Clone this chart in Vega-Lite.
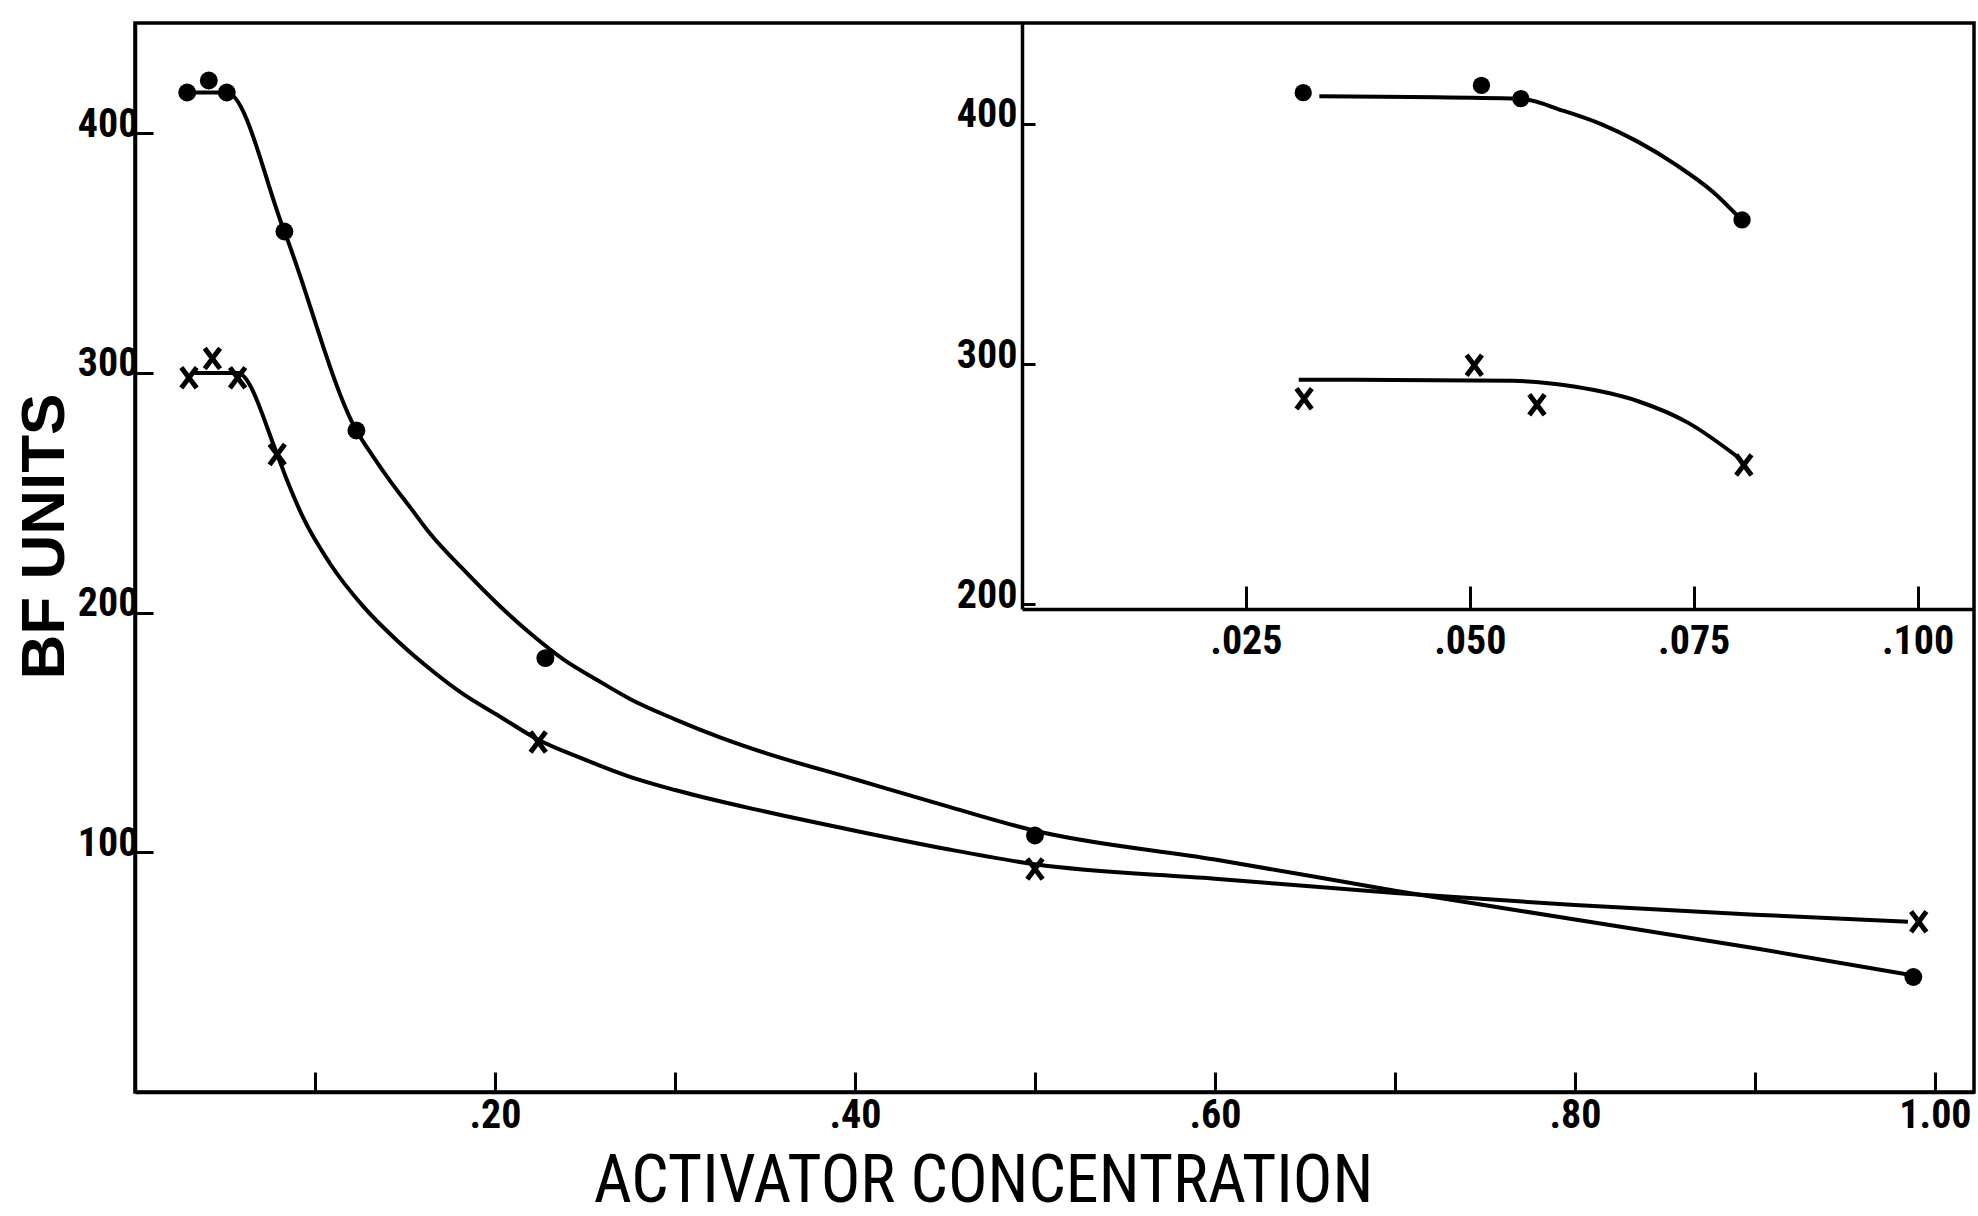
{
  "$schema": "https://vega.github.io/schema/vega-lite/v6.json",
  "width": 1839,
  "height": 1069,
  "autosize": {"type": "none"},
  "padding": {"left": 135, "top": 23, "right": 4, "bottom": 124},
  "background": "white",
  "config": {
    "view": {"stroke": "black", "strokeWidth": 3.5},
    "axis": {
      "grid": false,
      "domainColor": "black",
      "domainWidth": 3.5,
      "tickColor": "black",
      "tickWidth": 3,
      "labelColor": "black",
      "titleColor": "black",
      "labelFont": "Liberation Sans Narrow, Roboto Condensed, DejaVu Sans Condensed, Liberation Sans, sans-serif",
      "labelFontWeight": "bold",
      "labelFontSize": 40,
      "titleFont": "Liberation Sans Narrow, Roboto Condensed, DejaVu Sans Condensed, Liberation Sans, sans-serif"
    }
  },
  "data": {
    "values": [
      {"panel": "main", "series": "dot", "kind": "obs", "conc": 0.029, "bf": 417},
      {"panel": "main", "series": "dot", "kind": "obs", "conc": 0.041, "bf": 422},
      {"panel": "main", "series": "dot", "kind": "obs", "conc": 0.051, "bf": 417},
      {"panel": "main", "series": "dot", "kind": "obs", "conc": 0.083, "bf": 359},
      {"panel": "main", "series": "dot", "kind": "obs", "conc": 0.123, "bf": 276},
      {"panel": "main", "series": "dot", "kind": "obs", "conc": 0.228, "bf": 181},
      {"panel": "main", "series": "dot", "kind": "obs", "conc": 0.5, "bf": 107},
      {"panel": "main", "series": "dot", "kind": "obs", "conc": 0.988, "bf": 48},
      {"panel": "main", "series": "x", "kind": "obs", "conc": 0.03, "bf": 298},
      {"panel": "main", "series": "x", "kind": "obs", "conc": 0.043, "bf": 306},
      {"panel": "main", "series": "x", "kind": "obs", "conc": 0.057, "bf": 298},
      {"panel": "main", "series": "x", "kind": "obs", "conc": 0.079, "bf": 266},
      {"panel": "main", "series": "x", "kind": "obs", "conc": 0.224, "bf": 146},
      {"panel": "main", "series": "x", "kind": "obs", "conc": 0.5, "bf": 93},
      {"panel": "main", "series": "x", "kind": "obs", "conc": 0.991, "bf": 71},

      {"panel": "main", "series": "dot", "kind": "fit", "conc": 0.029, "bf": 417},
      {"panel": "main", "series": "dot", "kind": "fit", "conc": 0.051, "bf": 417},
      {"panel": "main", "series": "dot", "kind": "fit", "conc": 0.083, "bf": 359},
      {"panel": "main", "series": "dot", "kind": "fit", "conc": 0.123, "bf": 276},
      {"panel": "main", "series": "dot", "kind": "fit", "conc": 0.1324, "bf": 265},
      {"panel": "main", "series": "dot", "kind": "fit", "conc": 0.1417, "bf": 255},
      {"panel": "main", "series": "dot", "kind": "fit", "conc": 0.1528, "bf": 244},
      {"panel": "main", "series": "dot", "kind": "fit", "conc": 0.1639, "bf": 233},
      {"panel": "main", "series": "dot", "kind": "fit", "conc": 0.1824, "bf": 218},
      {"panel": "main", "series": "dot", "kind": "fit", "conc": 0.2009, "bf": 204},
      {"panel": "main", "series": "dot", "kind": "fit", "conc": 0.2194, "bf": 191.5},
      {"panel": "main", "series": "dot", "kind": "fit", "conc": 0.238, "bf": 180.5},
      {"panel": "main", "series": "dot", "kind": "fit", "conc": 0.2565, "bf": 172},
      {"panel": "main", "series": "dot", "kind": "fit", "conc": 0.275, "bf": 164},
      {"panel": "main", "series": "dot", "kind": "fit", "conc": 0.3, "bf": 155.5},
      {"panel": "main", "series": "dot", "kind": "fit", "conc": 0.325, "bf": 148},
      {"panel": "main", "series": "dot", "kind": "fit", "conc": 0.35, "bf": 141.5},
      {"panel": "main", "series": "dot", "kind": "fit", "conc": 0.4, "bf": 130.5},
      {"panel": "main", "series": "dot", "kind": "fit", "conc": 0.45, "bf": 119.5},
      {"panel": "main", "series": "dot", "kind": "fit", "conc": 0.5, "bf": 109},
      {"panel": "main", "series": "dot", "kind": "fit", "conc": 0.6, "bf": 97},
      {"panel": "main", "series": "dot", "kind": "fit", "conc": 0.7, "bf": 84},
      {"panel": "main", "series": "dot", "kind": "fit", "conc": 0.8, "bf": 72},
      {"panel": "main", "series": "dot", "kind": "fit", "conc": 0.9, "bf": 60},
      {"panel": "main", "series": "dot", "kind": "fit", "conc": 0.985, "bf": 49},

      {"panel": "main", "series": "x", "kind": "fit", "conc": 0.033, "bf": 300},
      {"panel": "main", "series": "x", "kind": "fit", "conc": 0.057, "bf": 300},
      {"panel": "main", "series": "x", "kind": "fit", "conc": 0.079, "bf": 266},
      {"panel": "main", "series": "x", "kind": "fit", "conc": 0.0843, "bf": 255.5},
      {"panel": "main", "series": "x", "kind": "fit", "conc": 0.0935, "bf": 239.5},
      {"panel": "main", "series": "x", "kind": "fit", "conc": 0.1083, "bf": 220.5},
      {"panel": "main", "series": "x", "kind": "fit", "conc": 0.1269, "bf": 202.5},
      {"panel": "main", "series": "x", "kind": "fit", "conc": 0.1454, "bf": 188.5},
      {"panel": "main", "series": "x", "kind": "fit", "conc": 0.1639, "bf": 176.5},
      {"panel": "main", "series": "x", "kind": "fit", "conc": 0.1824, "bf": 166},
      {"panel": "main", "series": "x", "kind": "fit", "conc": 0.2009, "bf": 157.5},
      {"panel": "main", "series": "x", "kind": "fit", "conc": 0.224, "bf": 147},
      {"panel": "main", "series": "x", "kind": "fit", "conc": 0.2472, "bf": 139.5},
      {"panel": "main", "series": "x", "kind": "fit", "conc": 0.275, "bf": 131.5},
      {"panel": "main", "series": "x", "kind": "fit", "conc": 0.3, "bf": 126},
      {"panel": "main", "series": "x", "kind": "fit", "conc": 0.35, "bf": 117},
      {"panel": "main", "series": "x", "kind": "fit", "conc": 0.4, "bf": 109},
      {"panel": "main", "series": "x", "kind": "fit", "conc": 0.45, "bf": 101.5},
      {"panel": "main", "series": "x", "kind": "fit", "conc": 0.5, "bf": 95},
      {"panel": "main", "series": "x", "kind": "fit", "conc": 0.6, "bf": 89},
      {"panel": "main", "series": "x", "kind": "fit", "conc": 0.7, "bf": 83},
      {"panel": "main", "series": "x", "kind": "fit", "conc": 0.8, "bf": 78},
      {"panel": "main", "series": "x", "kind": "fit", "conc": 0.9, "bf": 74},
      {"panel": "main", "series": "x", "kind": "fit", "conc": 0.985, "bf": 71},

      {"panel": "inset", "series": "dot", "kind": "obs", "conc": 0.0314, "bf": 413},
      {"panel": "inset", "series": "dot", "kind": "obs", "conc": 0.0513, "bf": 416},
      {"panel": "inset", "series": "dot", "kind": "obs", "conc": 0.0557, "bf": 410.5},
      {"panel": "inset", "series": "dot", "kind": "obs", "conc": 0.0804, "bf": 360},
      {"panel": "inset", "series": "x", "kind": "obs", "conc": 0.0315, "bf": 285.5},
      {"panel": "inset", "series": "x", "kind": "obs", "conc": 0.0505, "bf": 299.5},
      {"panel": "inset", "series": "x", "kind": "obs", "conc": 0.0575, "bf": 283},
      {"panel": "inset", "series": "x", "kind": "obs", "conc": 0.0806, "bf": 258},

      {"panel": "inset", "series": "dot", "kind": "fit", "conc": 0.0332, "bf": 411.5},
      {"panel": "inset", "series": "dot", "kind": "fit", "conc": 0.0556, "bf": 410.5},
      {"panel": "inset", "series": "dot", "kind": "fit", "conc": 0.0604, "bf": 405.5},
      {"panel": "inset", "series": "dot", "kind": "fit", "conc": 0.0646, "bf": 400},
      {"panel": "inset", "series": "dot", "kind": "fit", "conc": 0.0688, "bf": 392.5},
      {"panel": "inset", "series": "dot", "kind": "fit", "conc": 0.073, "bf": 383},
      {"panel": "inset", "series": "dot", "kind": "fit", "conc": 0.0772, "bf": 371.5},
      {"panel": "inset", "series": "dot", "kind": "fit", "conc": 0.0802, "bf": 360.5},
      {"panel": "inset", "series": "x", "kind": "fit", "conc": 0.0309, "bf": 293.5},
      {"panel": "inset", "series": "x", "kind": "fit", "conc": 0.0548, "bf": 293},
      {"panel": "inset", "series": "x", "kind": "fit", "conc": 0.0618, "bf": 290.5},
      {"panel": "inset", "series": "x", "kind": "fit", "conc": 0.0688, "bf": 284.5},
      {"panel": "inset", "series": "x", "kind": "fit", "conc": 0.0744, "bf": 275.5},
      {"panel": "inset", "series": "x", "kind": "fit", "conc": 0.0802, "bf": 260.5}
    ]
  },
  "layer": [
    {
      "encoding": {
        "x": {
          "field": "conc",
          "type": "quantitative",
          "scale": {"domain": [0, 1.0217], "nice": false, "zero": false},
          "axis": {
            "values": [0.1, 0.2, 0.3, 0.4, 0.5, 0.6, 0.7, 0.8, 0.9, 1.0],
            "labelExpr": "(round(datum.value*10)%2==0)?replace(format(datum.value,'.2f'),'0.','.'):''",
            "tickSize": -20,
            "labelPadding": 23,
            "labelOverlap": false,
            "labelFlush": false,
            "labelBaseline": "top",
            "title": "ACTIVATOR CONCENTRATION",
            "titleFontSize": 66,
            "titleFontWeight": "normal",
            "titleX": 848,
            "titleY": 89,
            "titleAlign": "center",
            "titleBaseline": "middle",
            "titleAnchor": null
          }
        },
        "y": {
          "field": "bf",
          "type": "quantitative",
          "scale": {"domain": [0, 446], "nice": false, "zero": false},
          "axis": {
            "values": [100, 200, 300, 400],
            "tickSize": -18,
            "labelPadding": 15,
            "labelBaseline": "middle",
            "labelOffset": -9,
            "labelFlush": false,
            "labelOverlap": false,
            "title": "BF UNITS",
            "titleFont": "Liberation Sans, DejaVu Sans, sans-serif",
            "titleFontSize": 62,
            "titleFontWeight": "bold",
            "titleAngle": -90,
            "titleX": -91,
            "titleY": 513,
            "titleAlign": "center",
            "titleBaseline": "middle",
            "titleAnchor": null
          }
        }
      },
      "layer": [
        {
          "transform": [{"filter": "datum.panel == 'main' && datum.kind == 'fit'"}],
          "mark": {"type": "line", "interpolate": "monotone", "color": "black", "strokeWidth": 4},
          "encoding": {"detail": {"field": "series"}}
        },
        {
          "transform": [{"filter": "datum.panel == 'main' && datum.kind == 'obs' && datum.series == 'dot'"}],
          "mark": {"type": "point", "shape": "circle", "filled": true, "color": "black", "opacity": 1, "size": 320}
        },
        {
          "transform": [{"filter": "datum.panel == 'main' && datum.kind == 'obs' && datum.series == 'x'"}],
          "mark": {"type": "point", "shape": "M-0.75,-1L0.75,1M0.75,-1L-0.75,1", "filled": false, "color": "black", "opacity": 1, "strokeWidth": 5, "size": 420}
        }
      ]
    },
    {
      "encoding": {
        "x": {
          "field": "conc",
          "type": "quantitative",
          "scale": {"domain": [0, 0.1063], "range": [887, 1839], "nice": false, "zero": false},
          "axis": {
            "orient": "bottom",
            "offset": -483,
            "values": [0.025, 0.05, 0.075, 0.1],
            "labelExpr": "replace(format(datum.value,'.3f'),'0.','.')",
            "tickSize": -23,
            "labelPadding": 35,
            "labelBaseline": "top",
            "labelFlush": false,
            "labelOverlap": false,
            "title": null
          }
        },
        "y": {
          "field": "bf",
          "type": "quantitative",
          "scale": {"domain": [198, 442], "range": [586, 0], "nice": false, "zero": false},
          "axis": {
            "orient": "left",
            "offset": -887,
            "values": [200, 300, 400],
            "tickSize": -13,
            "labelPadding": 18,
            "labelBaseline": "middle",
            "labelOffset": -9,
            "labelFlush": false,
            "labelOverlap": false,
            "title": null
          }
        }
      },
      "layer": [
        {
          "transform": [{"filter": "datum.panel == 'inset' && datum.kind == 'fit'"}],
          "mark": {"type": "line", "interpolate": "monotone", "color": "black", "strokeWidth": 4},
          "encoding": {"detail": {"field": "series"}}
        },
        {
          "transform": [{"filter": "datum.panel == 'inset' && datum.kind == 'obs' && datum.series == 'dot'"}],
          "mark": {"type": "point", "shape": "circle", "filled": true, "color": "black", "opacity": 1, "size": 300}
        },
        {
          "transform": [{"filter": "datum.panel == 'inset' && datum.kind == 'obs' && datum.series == 'x'"}],
          "mark": {"type": "point", "shape": "M-0.75,-1L0.75,1M0.75,-1L-0.75,1", "filled": false, "color": "black", "opacity": 1, "strokeWidth": 5, "size": 420}
        }
      ]
    }
  ],
  "resolve": {
    "scale": {"x": "independent", "y": "independent"},
    "axis": {"x": "independent", "y": "independent"}
  }
}
